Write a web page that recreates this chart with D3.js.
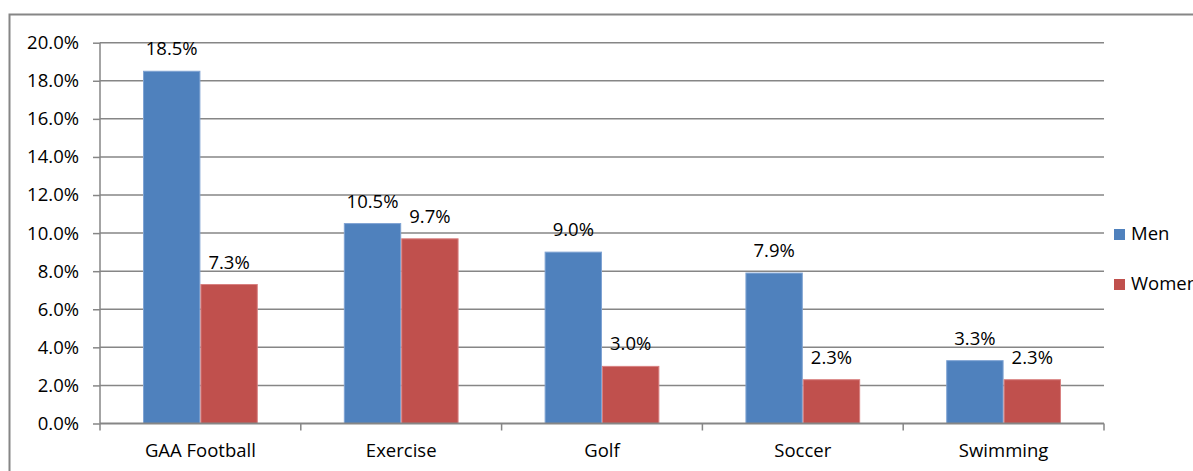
<!DOCTYPE html>
<html>
<head>
<meta charset="utf-8">
<script src="https://cdn.jsdelivr.net/npm/d3@7"></script>
<style>
  html, body { margin: 0; padding: 0; background: #fff; overflow: hidden; }
  svg { display: block; }
  text { font-family: "Open Sans", Lato, sans-serif; fill: #000; }
</style>
</head>
<body>
<script>
// Share of participants by activity, split by gender
const categories = ["GAA Football", "Exercise", "Golf", "Soccer", "Swimming"];
const seriesNames = ["Men", "Women"];
const menValues = [18.5, 10.5, 9.0, 7.9, 3.3];
const womenValues = [7.3, 9.7, 3.0, 2.3, 2.3];
const yTicks = [0, 2, 4, 6, 8, 10, 12, 14, 16, 18, 20];
const colors = ["#4F81BD", "#C0504D"];
const strokeColors = ["#7FA3D3", "#D88080"];

const W = 1193, H = 471;
const plot = { left: 100, right: 1104, top: 42.7, bottom: 423.5 };
const fontSize = "18.5px";
const fontFamily = "'Open Sans', Lato, sans-serif";

const svg = d3.select("body").append("svg").attr("width", W).attr("height", H);

// outer chart frame
svg.append("rect")
  .attr("x", 9.5).attr("y", 14.5)
  .attr("width", 1300).attr("height", 600)
  .attr("fill", "#fff").attr("stroke", "#868686").attr("stroke-width", 2);

const x = d3.scaleBand().domain(categories).range([plot.left, plot.right]).paddingInner(0).paddingOuter(0);
const y = d3.scaleLinear().domain([0, 20]).range([plot.bottom, plot.top]);
const gapRatio = 1.5;
const barW = x.bandwidth() / (2 + gapRatio);
const x1 = d3.scaleBand().domain(seriesNames).range([0, 2 * barW]);

// horizontal gridlines
svg.append("g").selectAll("line").data(yTicks.filter(d => d > 0)).join("line")
  .attr("x1", plot.left).attr("x2", plot.right)
  .attr("y1", d => y(d)).attr("y2", d => y(d))
  .attr("stroke", "#868686").attr("stroke-width", 1.5);

// y axis
const yAxis = d3.axisLeft(y).tickValues(yTicks).tickSize(7).tickPadding(14)
  .tickFormat(d => d.toFixed(1) + "%");
const gy = svg.append("g").attr("transform", `translate(${plot.left},0)`).call(yAxis);
gy.select(".domain").attr("stroke", "#868686").attr("stroke-width", 1.5).attr("d", `M0,${plot.top}V${plot.bottom}`);
gy.selectAll(".tick line").attr("stroke", "#868686").attr("stroke-width", 1.5);
gy.selectAll(".tick text").style("font-size", fontSize).style("font-family", fontFamily);

// bars
const series = [menValues, womenValues];
const groups = svg.append("g").selectAll("g").data(categories).join("g")
  .attr("transform", d => `translate(${x(d) + (x.bandwidth() - 2 * barW) / 2},0)`);

groups.each(function(cat, i) {
  const g = d3.select(this);
  seriesNames.forEach((s, k) => {
    const v = series[k][i];
    g.append("rect")
      .attr("x", x1(s) + 0.5).attr("y", y(v))
      .attr("width", x1.bandwidth() - 1).attr("height", y(0) - y(v))
      .attr("fill", colors[k]).attr("stroke", strokeColors[k]).attr("stroke-width", 1);
    g.append("text")
      .attr("x", x1(s) + x1.bandwidth() / 2).attr("y", y(v) - 16)
      .attr("text-anchor", "middle").style("font-size", fontSize)
      .text(v.toFixed(1) + "%");
  });
});

// x axis
const xAxis = d3.axisBottom(x).tickSize(0).tickPadding(20);
const gx = svg.append("g").attr("transform", `translate(0,${plot.bottom})`).call(xAxis);
gx.select(".domain").attr("stroke", "#868686").attr("stroke-width", 2).attr("d", `M${plot.left},0H${plot.right}`);
gx.selectAll(".tick text").style("font-size", fontSize).style("font-family", fontFamily);
// category boundary ticks
const bounds = categories.map(c => x(c)).concat([plot.right]);
svg.append("g").selectAll("line").data(bounds).join("line")
  .attr("x1", d => d).attr("x2", d => d)
  .attr("y1", plot.bottom).attr("y2", plot.bottom + 7)
  .attr("stroke", "#868686").attr("stroke-width", 1.5);

// legend
const legend = svg.append("g").selectAll("g").data(seriesNames).join("g")
  .attr("transform", (d, i) => `translate(1114,${229 + i * 50})`);
legend.append("rect").attr("width", 11).attr("height", 11).attr("fill", (d, i) => colors[i]);
legend.append("text").attr("x", 17).attr("y", 10.5).style("font-size", fontSize).text(d => d);
</script>
</body>
</html>
